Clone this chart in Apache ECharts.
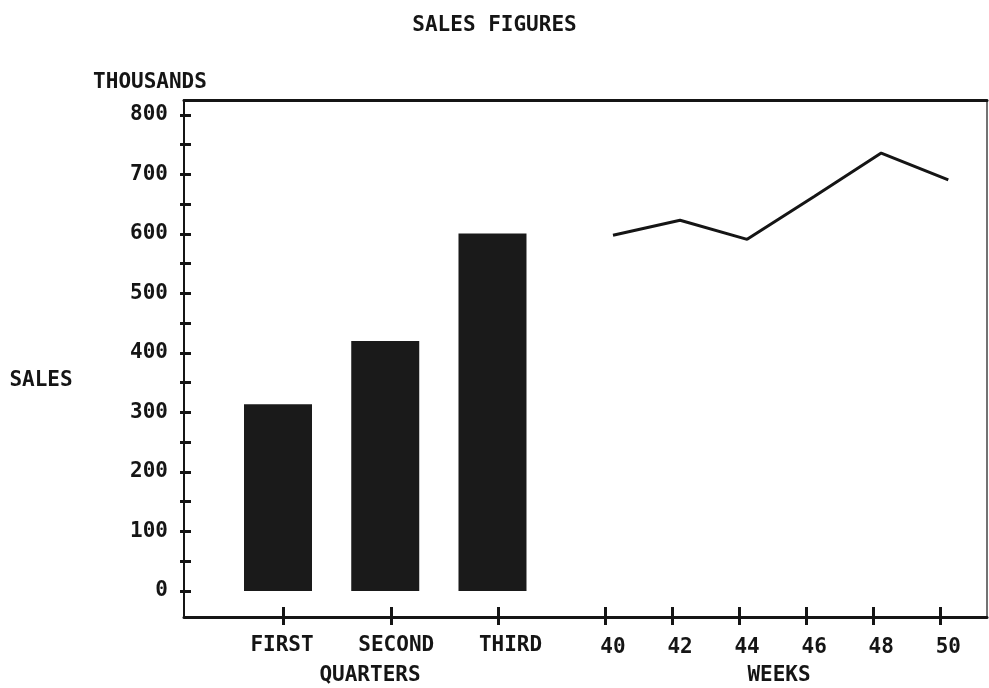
<!DOCTYPE html>
<html>
<head>
<meta charset="utf-8">
<script src="https://cdn.jsdelivr.net/npm/echarts@6/dist/echarts.min.js"></script>
<style>
  html, body { margin: 0; padding: 0; background: #fff; }
  #chart { width: 989px; height: 688px; }
</style>
</head>
<body>
<div id="chart"></div>
<script>
document.addEventListener('DOMContentLoaded', function() {

    const quarters = ['FIRST', 'SECOND', 'THIRD'];
    const quarterSales = [314, 420, 601];

    const weeks = [40, 42, 44, 46, 48, 50];
    const weekSales = [598, 623, 591, 663, 736, 691];

    const yMajor = [0, 100, 200, 300, 400, 500, 600, 700, 800];
    const yMinor = [0, 50, 100, 150, 200, 250, 300, 350, 400, 450, 500, 550, 600, 650, 700, 750, 800];

    const FONT = '"DejaVu Sans Mono", monospace';
    const INK = '#151515';
    const SIZE = 21;

    const textStyle = (size) => ({
        fontFamily: FONT,
        fontWeight: 'bold',
        fontSize: size,
        color: INK
    });

    const caption = (text, x, y) => ({
        type: 'text', x: x, y: y,
        style: {text: text, align: 'center', verticalAlign: 'middle', fontFamily: FONT, fontWeight: 'bold', fontSize: SIZE, fill: INK}
    });

    const quarterIdx = quarters.map((q, i) => i + 1);

    const chart = echarts.init(document.getElementById('chart'));

    chart.setOption({
        animation: false,
        title: {
            text: 'SALES FIGURES',
            left: 'center',
            top: 10,
            textStyle: textStyle(SIZE)
        },
        grid: {
            left: 184,
            right: 2,
            top: 100,
            bottom: 71,
            containLabel: false
        },
        graphic: [
            caption('THOUSANDS', 150, 83),
            caption('SALES', 41, 381),
            caption('QUARTERS', 370, 676),
            caption('WEEKS', 779, 676)
        ],
        xAxis: [
            // bars
            {
                type: 'value', position: 'bottom', min: 0.1235, max: 7.611,
                show: false,
                axisLine: {onZero: false}
            },
            // quarter labels + bottom axis line
            {
                type: 'value', position: 'bottom', min: 0.1422, max: 7.1707,
                splitLine: {show: false},
                axisLine: {show: true, onZero: false, lineStyle: {color: INK, width: 3}},
                axisTick: {show: false},
                axisLabel: {
                    customValues: quarterIdx,
                    formatter: (v) => quarters[Math.round(v) - 1] || '',
                    margin: 18,
                    ...textStyle(SIZE)
                }
            },
            // quarter ticks
            {
                type: 'value', position: 'bottom', offset: 8, min: 0.0744, max: 7.544,
                splitLine: {show: false},
                axisLine: {show: false, onZero: false},
                axisLabel: {show: false},
                axisTick: {show: true, inside: true, length: 18, customValues: quarterIdx, lineStyle: {color: INK, width: 3}}
            },
            // weeks (line + labels)
            {
                type: 'value', position: 'bottom', min: 27.206, max: 51.154,
                splitLine: {show: false},
                axisLine: {show: false, onZero: false},
                axisTick: {show: false},
                axisLabel: {
                    customValues: weeks,
                    margin: 20,
                    ...textStyle(SIZE)
                }
            },
            // week ticks
            {
                type: 'value', position: 'bottom', offset: 8, min: 27.412, max: 51.382,
                splitLine: {show: false},
                axisLine: {show: false, onZero: false},
                axisLabel: {show: false},
                axisTick: {show: true, inside: true, length: 18, customValues: weeks, lineStyle: {color: INK, width: 3}}
            },
            // top frame line
            {
                type: 'value', position: 'top', min: 0, max: 1,
                splitLine: {show: false},
                axisLine: {show: true, onZero: false, lineStyle: {color: INK, width: 3}},
                axisTick: {show: false},
                axisLabel: {show: false}
            }
        ],
        yAxis: [
            {
                type: 'value', position: 'left', min: -43.7, max: 825.2,
                splitLine: {show: false},
                axisLine: {show: true, onZero: false, lineStyle: {color: INK, width: 2}},
                axisTick: {show: false},
                axisLabel: {
                    customValues: yMajor,
                    margin: 16,
                    ...textStyle(SIZE)
                }
            },
            {
                type: 'value', position: 'left', offset: 4, min: -43.7, max: 825.2,
                splitLine: {show: false},
                axisLine: {show: false, onZero: false},
                axisLabel: {show: false},
                axisTick: {show: true, inside: true, length: 11, customValues: yMinor, lineStyle: {color: INK, width: 3}}
            },
            {
                type: 'value', position: 'right', min: 0, max: 1,
                splitLine: {show: false},
                axisLine: {show: true, onZero: false, lineStyle: {color: '#444', width: 1.5}},
                axisTick: {show: false},
                axisLabel: {show: false}
            }
        ],
        series: [
            {
                type: 'bar',
                xAxisIndex: 0,
                yAxisIndex: 0,
                barWidth: 68,
                itemStyle: {color: '#1a1a1a'},
                data: quarterIdx.map((q, i) => [q, quarterSales[i]])
            },
            {
                type: 'line',
                xAxisIndex: 3,
                yAxisIndex: 0,
                symbol: 'none',
                lineStyle: {color: INK, width: 3},
                data: weeks.map((w, i) => [w, weekSales[i]])
            }
        ]
    });

});
</script>
</body>
</html>
